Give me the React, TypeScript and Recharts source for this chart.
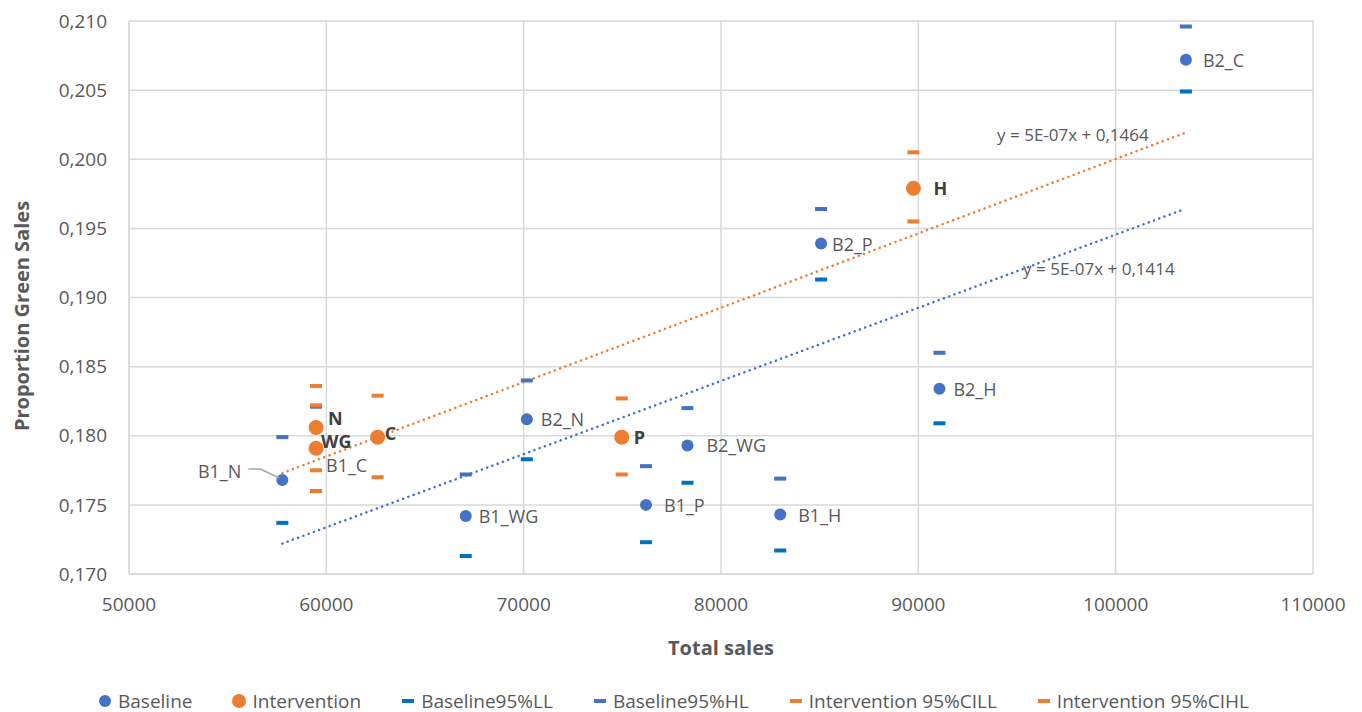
import { ScatterChart, Scatter, XAxis, YAxis, CartesianGrid } from "recharts";

// baseline stores
const baselineNames = ["B1_N", "B1_C", "B1_WG", "B1_P", "B1_H", "B2_N", "B2_C", "B2_WG", "B2_P", "B2_H"];
const baselineSales = [57770, 59480, 67065, 76200, 83000, 70160, 103560, 78300, 85070, 91070];
const baselineProp = [0.1768, 0.1791, 0.1742, 0.175, 0.1743, 0.1812, 0.2072, 0.1793, 0.1939, 0.1834];
const baselineLL = [0.1737, 0.176, 0.1713, 0.1723, 0.1717, 0.1783, 0.2049, 0.1766, 0.1913, 0.1809];
const baselineHL = [0.1799, 0.1821, 0.1772, 0.1778, 0.1769, 0.184, 0.2096, 0.182, 0.1964, 0.186];

// intervention stores
const interventionNames = ["N", "WG", "C", "P", "H"];
const interventionSales = [59480, 59480, 62600, 74970, 89750];
const interventionProp = [0.1806, 0.1791, 0.1799, 0.1799, 0.1979];
const interventionLL = [0.1775, 0.176, 0.177, 0.1772, 0.1955];
const interventionHL = [0.1836, 0.1822, 0.1829, 0.1827, 0.2005];

// linear trend lines, end points
const trendSales = [57770, 103500];
const baselineTrend = [0.1722, 0.1964];
const interventionTrend = [0.1773, 0.2019];
const baselineEquation = "y = 5E-07x + 0,1414";
const interventionEquation = "y = 5E-07x + 0,1464";

const xTicks = [50000, 60000, 70000, 80000, 90000, 100000, 110000];
const yTicks = [0.17, 0.175, 0.18, 0.185, 0.19, 0.195, 0.2, 0.205, 0.21];

const BLUE = "#4472C4";
const BLUE_LL = "#0070C0";
const ORANGE = "#ED7D31";
const GREY = "#595959";
const FONT = "'Open Sans', sans-serif";

// label offsets (dx, dy) from the point
const labelPos: Record<string, [number, number]> = {
  B1_C: [10, 17],
  B1_WG: [13, 0],
  B1_P: [18, 0],
  B1_H: [18, 0],
  B2_N: [14, 0],
  B2_C: [17, 0],
  B2_WG: [19, 0],
  B2_P: [11, 0],
  B2_H: [14, 0],
  N: [12, -9],
  WG: [5, -7],
  C: [7, -4],
  P: [12, 0],
  H: [20, 0],
};

const zip = (names: string[], xs: number[], ys: number[]) =>
  names.map((name, i) => ({ name, sales: xs[i], prop: ys[i] }));

const baselineData = zip(baselineNames, baselineSales, baselineProp);
const baselineLLData = zip(baselineNames, baselineSales, baselineLL);
const baselineHLData = zip(baselineNames, baselineSales, baselineHL);
const interventionData = zip(interventionNames, interventionSales, interventionProp);
const interventionLLData = zip(interventionNames, interventionSales, interventionLL);
const interventionHLData = zip(interventionNames, interventionSales, interventionHL);
const baselineTrendData = zip(["start", "end"], trendSales, baselineTrend);
const interventionTrendData = zip(["start", "end"], trendSales, interventionTrend);

const dash = (color: string) => (p: any) =>
  <rect x={p.cx - 6} y={p.cy - 2} width={12} height={4} fill={color} />;

const BaselineDot = (p: any) => {
  const name = p.payload.name;
  if (name === "B1_N") {
    return (
      <g>
        <circle cx={p.cx} cy={p.cy} r={6} fill={BLUE} />
        <polyline
          points={`${p.cx - 34},${p.cy - 11} ${p.cx - 22},${p.cy - 11} ${p.cx - 3},${p.cy - 2}`}
          fill="none"
          stroke="#A6A6A6"
          strokeWidth={1.5}
        />
        <text x={p.cx - 41} y={p.cy - 9} textAnchor="end" dominantBaseline="central"
          fontFamily={FONT} fontSize={18} fill={GREY}>{name}</text>
      </g>
    );
  }
  const [dx, dy] = labelPos[name] || [14, 0];
  return (
    <g>
      <circle cx={p.cx} cy={p.cy} r={6} fill={BLUE} />
      <text x={p.cx + dx} y={p.cy + dy} dominantBaseline="central"
        fontFamily={FONT} fontSize={18} fill={GREY}>{name}</text>
    </g>
  );
};

const InterventionDot = (p: any) => {
  const name = p.payload.name;
  const [dx, dy] = labelPos[name] || [12, 0];
  return (
    <g>
      <circle cx={p.cx} cy={p.cy} r={7.5} fill={ORANGE} />
      <text x={p.cx + dx} y={p.cy + dy} dominantBaseline="central"
        fontFamily={FONT} fontSize={18} fontWeight="bold" fill="#404040">{name}</text>
    </g>
  );
};

const trendEnd = (text: string, dx: number, dy: number) => (p: any) => {
  if (p.payload.name !== "end") return <g />;
  return (
    <text x={p.cx + dx} y={p.cy + dy} textAnchor="end" dominantBaseline="central"
      fontFamily={FONT} fontSize={17} fill={GREY}>{text}</text>
  );
};

const dotted = (color: string) => ({
  stroke: color,
  strokeWidth: 2.5,
  strokeDasharray: "0.1 5.5",
  strokeLinecap: "round" as const,
});

const legendItems = [
  { label: "Baseline", kind: "circle", color: BLUE },
  { label: "Intervention", kind: "bigcircle", color: ORANGE },
  { label: "Baseline95%LL", kind: "dash", color: BLUE_LL },
  { label: "Baseline95%HL", kind: "dash", color: BLUE },
  { label: "Intervention 95%CILL", kind: "dash", color: ORANGE },
  { label: "Intervention 95%CIHL", kind: "dash", color: ORANGE },
];

export default function App() {
  return (
    <div style={{ position: "relative", width: 1362, height: 712, background: "#fff", fontFamily: FONT }}>
      <style>{"body{margin:0}"}</style>
      <ScatterChart width={1362} height={712} margin={{ top: 21, right: 49, bottom: 0, left: 0 }}>
        <CartesianGrid stroke="#D9D9D9" strokeWidth={1.5} />
        <XAxis
          type="number"
          dataKey="sales"
          domain={[50000, 110000]}
          ticks={xTicks}
          height={138}
          tickLine={false}
          tickMargin={18}
          axisLine={{ stroke: "#D9D9D9", strokeWidth: 1.5 }}
          tick={{ fill: GREY, fontSize: 19, fontFamily: FONT }}
        />
        <YAxis
          type="number"
          dataKey="prop"
          domain={[0.17, 0.21]}
          ticks={yTicks}
          width={129}
          tickLine={false}
          tickMargin={16}
          axisLine={{ stroke: "#D9D9D9", strokeWidth: 1.5 }}
          tick={{ fill: GREY, fontSize: 19, fontFamily: FONT }}
          tickFormatter={(v: number) => v.toFixed(3).replace(".", ",")}
        />
        <Scatter data={baselineTrendData} line={dotted(BLUE)} shape={trendEnd(baselineEquation, -10, 59)} isAnimationActive={false} />
        <Scatter data={interventionTrendData} line={dotted(ORANGE)} shape={trendEnd(interventionEquation, -36, 2)} isAnimationActive={false} />
        <Scatter data={baselineLLData} shape={dash(BLUE_LL)} isAnimationActive={false} />
        <Scatter data={baselineHLData} shape={dash(BLUE)} isAnimationActive={false} />
        <Scatter data={baselineData} shape={BaselineDot} isAnimationActive={false} />
        <Scatter data={interventionLLData} shape={dash(ORANGE)} isAnimationActive={false} />
        <Scatter data={interventionHLData} shape={dash(ORANGE)} isAnimationActive={false} />
        <Scatter data={interventionData} shape={InterventionDot} isAnimationActive={false} />
      </ScatterChart>

      <div style={{ position: "absolute", left: 668, top: 634, fontSize: 20, fontWeight: "bold", color: GREY, whiteSpace: "nowrap" }}>
        Total sales
      </div>
      <div
        style={{
          position: "absolute",
          left: 21,
          top: 316,
          transform: "translate(-50%, -50%) rotate(-90deg)",
          fontSize: 20,
          fontWeight: "bold",
          color: GREY,
          whiteSpace: "nowrap",
        }}
      >
        Proportion Green Sales
      </div>

      <div style={{ position: "absolute", left: 98, top: 691, height: 20, display: "flex", gap: 40, alignItems: "center", fontSize: 19, lineHeight: "20px", color: GREY, whiteSpace: "nowrap" }}>
        {legendItems.map((it) => (
          <div key={it.label} style={{ display: "flex", alignItems: "center", gap: 6 }}>
            <svg width={14} height={16}>
              {it.kind === "dash" ? (
                <rect x={1} y={6} width={12} height={4} fill={it.color} />
              ) : (
                <circle cx={7} cy={8} r={it.kind === "bigcircle" ? 7 : 6} fill={it.color} />
              )}
            </svg>
            <span>{it.label}</span>
          </div>
        ))}
      </div>
    </div>
  );
}
